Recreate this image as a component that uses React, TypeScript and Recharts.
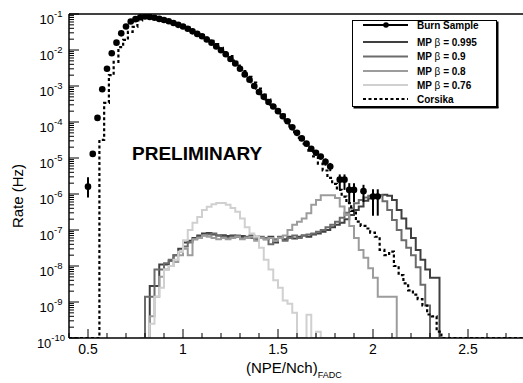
import React from 'react';
import { ComposedChart, Line, Scatter, ErrorBar, XAxis, YAxis, ReferenceLine } from 'recharts';

const FLOOR = 1e-10;
const FONT = '"Liberation Sans", Arial, Helvetica, sans-serif';

// burn sample (markers with error bars)
const burnX = [
  0.5, 0.525, 0.55, 0.575, 0.6, 0.625, 0.65, 0.675, 0.7, 0.725, 0.75, 0.775, 0.8, 0.825, 0.85, 0.875,
  0.9, 0.925, 0.95, 0.975, 1.0, 1.025, 1.05, 1.075, 1.1, 1.125, 1.15, 1.175, 1.2, 1.225, 1.25, 1.275,
  1.3, 1.325, 1.35, 1.375, 1.4, 1.425, 1.45, 1.475, 1.5, 1.525, 1.55, 1.575, 1.6, 1.625, 1.65, 1.675,
  1.7, 1.725, 1.75, 1.775, 1.825, 1.85, 1.875, 1.9, 1.95, 2.0, 2.025,
];
const burnRate = [
  1.6e-6, 1.3e-5, 1.3e-4, 8.1e-4, 3.0e-3, 8.1e-3, 1.6e-2, 2.9e-2, 4.5e-2, 6.2e-2, 7.2e-2, 8.1e-2, 8.5e-2, 8.3e-2, 7.9e-2, 7.3e-2,
  6.8e-2, 6.3e-2, 5.6e-2, 5.0e-2, 4.5e-2, 3.9e-2, 3.3e-2, 2.8e-2, 2.4e-2, 1.95e-2, 1.6e-2, 1.26e-2, 9.8e-3, 7.6e-3, 5.6e-3, 4.2e-3,
  3.0e-3, 2.1e-3, 1.5e-3, 1.0e-3, 6.8e-4, 5.0e-4, 3.6e-4, 2.7e-4, 2.0e-4, 1.45e-4, 1.05e-4, 7.1e-5, 5.0e-5, 3.5e-5, 2.5e-5, 1.8e-5,
  1.4e-5, 1.1e-5, 7.9e-6, 5.8e-6, 2.5e-6, 2.5e-6, 1.3e-6, 1.3e-6, 1.2e-6, 8.5e-7, 8.5e-7,
];
const burnErrLow = [
  0.8e-6, 0, 0, 0, 0, 0, 0, 0, 0, 0, 0, 0, 0, 0, 0, 0,
  0, 0, 0, 0, 0, 0, 0, 0, 0, 0, 0, 0, 0, 0, 0, 0,
  0, 0, 0, 0, 0, 0, 0, 0, 0, 0, 0, 0, 0, 0, 0, 0,
  2e-6, 2e-6, 1.8e-6, 1.5e-6, 1.2e-6, 1.2e-6, 0.7e-6, 0.7e-6, 0.6e-6, 6e-7, 6e-7,
];
const burnErrHigh = [
  1.3e-6, 0, 0, 0, 0, 0, 0, 0, 0, 0, 0, 0, 0, 0, 0, 0,
  0, 0, 0, 0, 0, 0, 0, 0, 0, 0, 0, 0, 0, 0, 0, 0,
  0, 0, 0, 0, 0, 0, 0, 0, 0, 0, 0, 0, 0, 0, 0, 0,
  2e-6, 2e-6, 1.8e-6, 1.5e-6, 1.0e-6, 1.0e-6, 0.7e-6, 0.7e-6, 0.6e-6, 5e-7, 5e-7,
];

// Corsika histogram (bin left edges)
const corsikaEdges = [
  0.4, 0.56, 0.585, 0.61, 0.635, 0.66, 0.685, 0.71, 0.735, 0.76, 0.785, 0.81, 0.835, 0.86, 0.885,
  0.91, 0.935, 0.96, 0.985, 1.01, 1.035, 1.06, 1.085, 1.11, 1.135, 1.16, 1.185, 1.21, 1.235, 1.26,
  1.285, 1.31, 1.335, 1.36, 1.385, 1.41, 1.435, 1.46, 1.485, 1.51, 1.535, 1.56, 1.585, 1.61, 1.635,
  1.66, 1.685, 1.71, 1.735, 1.76, 1.785, 1.81, 1.835, 1.86, 1.885, 1.91, 1.935, 1.96, 1.985, 2.01,
  2.035, 2.06, 2.085, 2.11, 2.135, 2.16, 2.185, 2.21, 2.235, 2.26, 2.285, 2.31, 2.335, 2.36, 2.8,
];
const corsikaRate = [
  FLOOR, 3.2e-5, 3.4e-4, 2.0e-3, 4.7e-3, 1.2e-2, 1.9e-2, 3.2e-2, 4.4e-2, 6.6e-2, 7.9e-2, 8.4e-2, 8.2e-2, 7.8e-2, 7.2e-2,
  6.6e-2, 6.0e-2, 5.3e-2, 4.7e-2, 4.2e-2, 3.6e-2, 3.1e-2, 2.6e-2, 2.2e-2, 1.8e-2, 1.45e-2, 1.15e-2, 8.8e-3, 6.8e-3, 5.1e-3,
  3.7e-3, 2.6e-3, 1.8e-3, 1.25e-3, 8.5e-4, 5.8e-4, 4.2e-4, 3.0e-4, 2.2e-4, 1.6e-4, 1.1e-4, 7.5e-5, 5.2e-5, 3.6e-5, 2.5e-5,
  1.6e-5, 1.1e-5, 7.0e-6, 4.5e-6, 2.8e-6, 1.9e-6, 1.3e-6, 8.5e-7, 5.6e-7, 3.4e-7, 1.7e-7, 1.3e-7, 1.1e-7, 8.5e-8, 6.5e-8,
  2.8e-8, 2.0e-8, 2.5e-8, 1.0e-8, 5.6e-9, 3.3e-9, 2.1e-9, 1.6e-9, 1.2e-9, 8.0e-10, 4.5e-10, 4.0e-10, 1.5e-10, FLOOR, FLOOR,
];

// MP histograms (bin left edges)
const mpEdges = [
  0.775, 0.8, 0.825, 0.85, 0.875, 0.9, 0.925, 0.95, 0.975, 1.0, 1.025, 1.05, 1.075,
  1.1, 1.125, 1.15, 1.175, 1.2, 1.225, 1.25, 1.275, 1.3, 1.325, 1.35, 1.375,
  1.4, 1.425, 1.45, 1.475, 1.5, 1.525, 1.55, 1.575, 1.6, 1.625, 1.65, 1.675,
  1.7, 1.725, 1.75, 1.775, 1.8, 1.825, 1.85, 1.875, 1.9, 1.925, 1.95, 1.975,
  2.0, 2.025, 2.05, 2.075, 2.1, 2.125, 2.15, 2.175, 2.2, 2.225, 2.25, 2.275,
  2.3, 2.325, 2.35, 2.375,
];
const mp0995 = [
  FLOOR, FLOOR, 2.8e-9, 2.8e-9, 1.1e-8, 1.1e-8, 1.4e-8, 2.0e-8, 3.0e-8, 4.5e-8, 5.0e-8, 6.0e-8, 7.0e-8,
  8.0e-8, 8.3e-8, 7.5e-8, 7.0e-8, 7.2e-8, 6.8e-8, 7.0e-8, 6.5e-8, 6.8e-8, 6.2e-8, 7.0e-8, 6.5e-8,
  6.0e-8, 5.5e-8, 6.5e-8, 4.5e-8, 6.0e-8, 5.5e-8, 6.5e-8, 5.8e-8, 6.5e-8, 7.0e-8, 6.5e-8, 7.5e-8,
  8.0e-8, 9.0e-8, 1.0e-7, 1.2e-7, 1.4e-7, 1.6e-7, 2.0e-7, 2.6e-7, 3.6e-7, 4.5e-7, 6.5e-7, 7.5e-7,
  8.5e-7, 9.3e-7, 9.5e-7, 9.0e-7, 6.8e-7, 3.6e-7, 2.1e-7, 1.1e-7, 6.0e-8, 2.8e-8, 1.5e-8, 8.0e-9,
  4.7e-9, 4.7e-9, FLOOR, FLOOR,
];
const mp09 = [
  FLOOR, 1.4e-9, 1.4e-9, 8.0e-9, 8.0e-9, 1.2e-8, 1.5e-8, 2.0e-8, 2.5e-8, 3.5e-8, 4.5e-8, 5.5e-8, 6.5e-8,
  7.0e-8, 7.5e-8, 8.0e-8, 7.0e-8, 6.5e-8, 6.0e-8, 6.5e-8, 7.0e-8, 6.0e-8, 6.5e-8, 6.0e-8, 5.5e-8,
  6.5e-8, 6.0e-8, 4.0e-8, 5.5e-8, 6.5e-8, 5.0e-8, 6.0e-8, 7.0e-8, 6.0e-8, 7.0e-8, 7.5e-8, 8.0e-8,
  9.0e-8, 1.0e-7, 1.2e-7, 1.4e-7, 1.7e-7, 2.2e-7, 3.0e-7, 4.0e-7, 5.5e-7, 6.8e-7, 8.0e-7, 9.0e-7,
  9.5e-7, 9.3e-7, 6.3e-7, 3.6e-7, 1.9e-7, 1.0e-7, 5.2e-8, 3.2e-8, 2.0e-8, 9.3e-9, 3.0e-9, 8.0e-10,
  FLOOR, FLOOR, FLOOR, FLOOR,
];
const mp08 = [
  FLOOR, FLOOR, 4.0e-10, 1.4e-9, 5.0e-9, 8.0e-9, 1.0e-8, 1.3e-8, 2.0e-8, 3.0e-8, 2.0e-8, 5.5e-8, 6.0e-8,
  7.0e-8, 6.5e-8, 6.0e-8, 5.5e-8, 6.0e-8, 5.5e-8, 6.0e-8, 6.5e-8, 5.5e-8, 6.0e-8, 6.5e-8, 5.0e-8,
  6.0e-8, 5.5e-8, 6.0e-8, 5.0e-8, 6.0e-8, 7.0e-8, 1.0e-7, 1.4e-7, 1.7e-7, 2.1e-7, 2.9e-7, 5.0e-7,
  6.8e-7, 9.3e-7, 9.3e-7, 9.3e-7, 7.8e-7, 4.5e-7, 2.6e-7, 1.3e-7, 6.0e-8, 2.8e-8, 1.7e-8, 8.7e-9,
  4.7e-9, 1.4e-9, 1.4e-9, 1.4e-9, 1.4e-9, FLOOR, FLOOR, FLOOR, FLOOR, FLOOR, FLOOR, FLOOR,
  FLOOR, FLOOR, FLOOR, FLOOR,
];
const mp076 = [
  FLOOR, FLOOR, 2.5e-10, 1.4e-9, 2.5e-9, 8.0e-9, 1.0e-8, 1.5e-8, 2.5e-8, 5.2e-8, 1.0e-7, 1.6e-7, 2.3e-7,
  3.6e-7, 4.4e-7, 5.2e-7, 5.6e-7, 5.6e-7, 5.0e-7, 4.1e-7, 3.2e-7, 2.1e-7, 1.2e-7, 8.0e-8, 6.5e-8,
  3.2e-8, 1.5e-8, 8.0e-9, 4.0e-9, 2.5e-9, 1.1e-9, 9.0e-10, 5.0e-10, FLOOR, FLOOR, 4.4e-10, FLOOR,
  1.5e-10, FLOOR, FLOOR, FLOOR, FLOOR, FLOOR, FLOOR, FLOOR, FLOOR, FLOOR, FLOOR, FLOOR,
  FLOOR, FLOOR, FLOOR, FLOOR, FLOOR, FLOOR, FLOOR, FLOOR, FLOOR, FLOOR, FLOOR, FLOOR,
  FLOOR, FLOOR, FLOOR, FLOOR,
];

const yDecades = [-10, -9, -8, -7, -6, -5, -4, -3, -2, -1];
const xTickValues = [
  0.4, 0.5, 0.6, 0.7, 0.8, 0.9, 1.0, 1.1, 1.2, 1.3, 1.4, 1.5, 1.6, 1.7, 1.8, 1.9,
  2.0, 2.1, 2.2, 2.3, 2.4, 2.5, 2.6, 2.7, 2.8,
];
const xTickLabels: Record<string, string> = { '0.5': '0.5', '1': '1', '1.5': '1.5', '2': '2', '2.5': '2.5' };

const legendItems = [
  { label: 'Burn Sample', color: '#000', kind: 'marker' },
  { label: '0.995', color: '#3f3f3f', kind: 'line' },
  { label: '0.9', color: '#6c6c6c', kind: 'line' },
  { label: '0.8', color: '#9c9c9c', kind: 'line' },
  { label: '0.76', color: '#d0d0d0', kind: 'line' },
  { label: 'Corsika', color: '#000', kind: 'dotted' },
];
const legendRows = [25, 42, 56.5, 71, 85, 99];

const toPoints = (xs: number[], ys: number[]) => xs.map((x, i) => ({ x, y: ys[i] }));

const burnData = burnX.map((x, i) => ({ x, y: burnRate[i], err: [burnErrLow[i], burnErrHigh[i]] }));
const corsikaData = toPoints(corsikaEdges, corsikaRate);
const mpSeries = [
  { name: 'MP 0.995', data: toPoints(mpEdges, mp0995), color: '#3f3f3f' },
  { name: 'MP 0.9', data: toPoints(mpEdges, mp09), color: '#6c6c6c' },
  { name: 'MP 0.8', data: toPoints(mpEdges, mp08), color: '#9c9c9c' },
  { name: 'MP 0.76', data: toPoints(mpEdges, mp076), color: '#d0d0d0' },
];

const yTicks: number[] = [];
yDecades.forEach((d) => {
  yTicks.push(Math.pow(10, d));
  if (d < -1) for (let m = 2; m <= 9; m++) yTicks.push(m * Math.pow(10, d));
});

const YTick = (props: any) => {
  const { x, y, payload } = props;
  const e = Math.log10(payload.value);
  const major = Math.abs(e - Math.round(e)) < 1e-6;
  return (
    <g>
      <line x1={x} x2={x + (major ? 10 : 5)} y1={y} y2={y} stroke="#000" strokeWidth={1} />
      {major && (
        <text x={51} y={y + 9.5} textAnchor="middle" fontFamily={FONT} fontSize={13} fill="#000">
          10<tspan dy={-6.5} fontSize={9.5}>{`-${Math.abs(Math.round(e))}`}</tspan>
        </text>
      )}
    </g>
  );
};

const XTick = (props: any) => {
  const { x, y, payload } = props;
  const key = String(Math.round(payload.value * 10) / 10);
  const label = xTickLabels[key];
  return (
    <g>
      <line x1={x} x2={x} y1={y} y2={y - (label ? 9 : 5)} stroke="#000" strokeWidth={1} />
      {label && (
        <text x={x} y={y + 16} textAnchor="middle" fontFamily={FONT} fontSize={14} fill="#000">
          {label}
        </text>
      )}
    </g>
  );
};

const Overlay = () => (
  <svg width={523} height={383} style={{ position: 'absolute', left: 0, top: 0, pointerEvents: 'none' }}>
    <text transform="translate(23,196) rotate(-90)" textAnchor="middle" fontFamily={FONT} fontSize={15} fill="#000">
      Rate (Hz)
    </text>
    <text x={246} y={373} fontFamily={FONT} fontSize={15} fill="#000">
      (NPE/Nch)<tspan dy={5} fontSize={9}>FADC</tspan>
    </text>
    <text x={132} y={160} fontFamily={FONT} fontSize={19} fontWeight="bold" fill="#000">
      PRELIMINARY
    </text>
    <rect x={352.5} y={20.5} width={144} height={86} fill="#fff" stroke="#000" strokeWidth={1} />
    <line x1={497.5} y1={21.5} x2={497.5} y2={108} stroke="#000" strokeWidth={2} />
    <line x1={353.5} y1={107.5} x2={498.5} y2={107.5} stroke="#000" strokeWidth={2} />
    {legendItems.map((it, i) => {
      const y = legendRows[i];
      return (
        <g key={it.label}>
          <line
            x1={363}
            x2={408}
            y1={y}
            y2={y}
            stroke={it.color}
            strokeWidth={2}
            strokeDasharray={it.kind === 'dotted' ? '3 2.5' : undefined}
          />
          {it.kind === 'marker' && <circle cx={386} cy={y} r={2.8} fill="#000" />}
          <text x={417} y={y + 3.6} fontFamily={FONT} fontSize={10} fontWeight="bold" fill="#000">
            {it.kind === 'line' ? (
              <>
                MP <tspan fontWeight="normal">β</tspan> = {it.label}
              </>
            ) : (
              it.label
            )}
          </text>
        </g>
      );
    })}
  </svg>
);

const Dot = (props: any) => <circle cx={props.cx} cy={props.cy} r={3.3} fill="#000" />;

export default function App() {
  return (
    <div style={{ position: 'absolute', left: 0, top: 0, width: 523, height: 383, overflow: 'hidden', background: '#fff' }}>
      <ComposedChart width={530} height={383} margin={{ top: 14, right: 5, bottom: 0, left: 0 }}>
        <XAxis
          type="number"
          dataKey="x"
          domain={[0.4, 2.8]}
          allowDataOverflow
          ticks={xTickValues}
          interval={0}
          tick={(p: any) => <XTick {...p} />}
          tickLine={false}
          tickSize={0}
          tickMargin={0}
          height={45}
          axisLine={{ stroke: '#000', strokeWidth: 1.5 }}
        />
        <YAxis
          type="number"
          dataKey="y"
          scale="log"
          domain={[1e-10, 1e-1]}
          allowDataOverflow
          ticks={yTicks}
          interval={0}
          tick={(p: any) => <YTick {...p} />}
          tickLine={false}
          tickSize={0}
          tickMargin={0}
          width={69}
          axisLine={{ stroke: '#000', strokeWidth: 1.5 }}
        />
        <ReferenceLine y={1e-1} stroke="#000" strokeWidth={1.5} />
        <ReferenceLine x={2.8} stroke="#000" strokeWidth={1.5} />
        {mpSeries.map((s) => (
          <Line
            key={s.name}
            data={s.data}
            dataKey="y"
            type="stepAfter"
            stroke={s.color}
            strokeWidth={2}
            dot={false}
            isAnimationActive={false}
          />
        ))}
        <Line
          data={corsikaData}
          dataKey="y"
          type="stepAfter"
          stroke="#000"
          strokeWidth={2.2}
          strokeDasharray="3 2.5"
          dot={false}
          isAnimationActive={false}
        />
        <Scatter data={burnData} dataKey="y" shape={<Dot />} isAnimationActive={false}>
          <ErrorBar dataKey="err" direction="y" width={0} stroke="#000" strokeWidth={2} />
        </Scatter>
      </ComposedChart>
      <Overlay />
    </div>
  );
}
